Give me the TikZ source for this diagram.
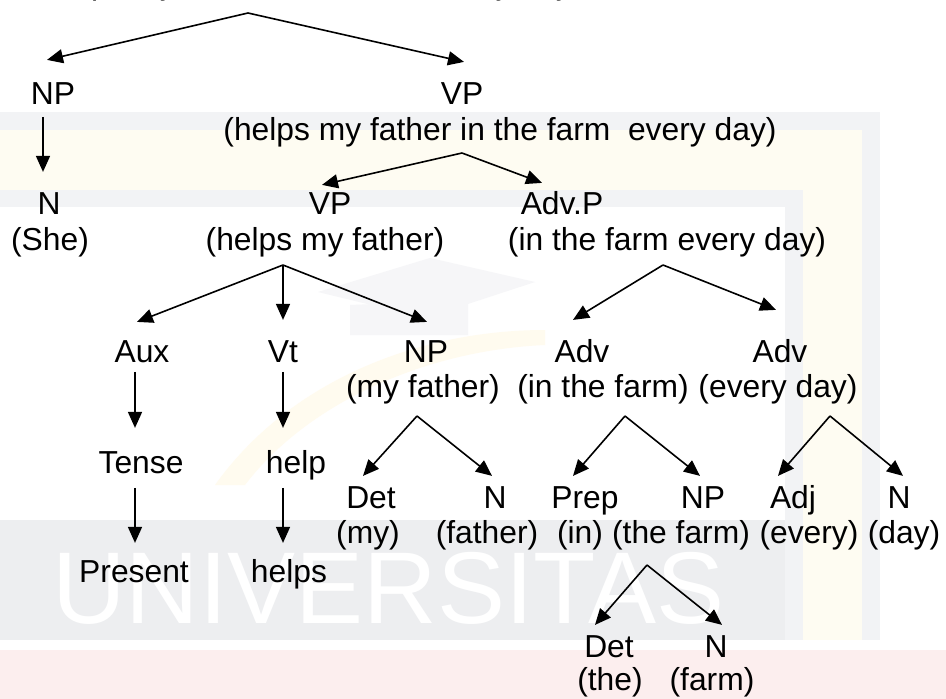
\documentclass[tikz,border=0pt]{standalone}
\usepackage{fontspec}
\setmainfont{Liberation Sans}
\usetikzlibrary{arrows.meta,calc}
\definecolor{wmgray}{HTML}{F2F3F5}
\definecolor{wmcream}{HTML}{FEFCF2}
\definecolor{wmband}{HTML}{EDEEF0}
\definecolor{wmpink}{HTML}{FCEEEE}
\definecolor{wmgold}{HTML}{FFFBEF}
\definecolor{wmcap}{HTML}{F6F6F8}
\begin{document}
\begin{tikzpicture}[x=1pt,y=-1pt,
  lab/.style={font=\fontsize{31.8}{38}\selectfont, inner sep=0pt, anchor=base,
              text height=22.9pt, text depth=6.7pt},
  arr/.style={line width=1.6pt, -{Triangle[length=16pt,width=14pt]}}]
\useasboundingbox (0,0) rectangle (946,699);
\clip (0,0) rectangle (946,699);

% ---- faint watermark in the background ----
\fill[white] (0,0) rectangle (946,699);
\fill[wmgray]  (0,112) rectangle (880,640);
\fill[wmcream] (0,130) rectangle (862,640);
\fill[wmgray]  (0,190) rectangle (803,640);
\fill[white]   (0,207) rectangle (785,520);
\fill[wmband]  (0,520) rectangle (785,640);
\fill[wmpink]  (0,650) rectangle (946,699);
\fill[wmgold] (215,485) .. controls (290,380) and (420,330) .. (545,330)
              -- (545,345) .. controls (430,350) and (310,400) .. (245,485) -- cycle;
\fill[wmcap] (318,292) -- (430,258) -- (535,282) -- (425,318) -- cycle;
\fill[wmcap] (350,305) -- (468,300) -- (468,335) -- (350,335) -- cycle;
\node[font=\fontsize{102}{110}\selectfont, text=white, inner sep=0pt, anchor=base west]
  (wm) at (52,623) {UNIVERSITAS};

% ---- sentence (above the top edge) ----
\node[lab, anchor=base west] (s) at (-17,-5.8) {She helps my father in the farm every day};

% ---- labels ----
\node[lab] (np1)  at (53,104)  {NP};
\node[lab] (vp1)  at (462,104) {VP};
\node[lab] (vp1g) at (500,140) {(helps my father in the farm\ \ every day)};

\node[lab] (n1)    at (49,214)  {N};
\node[lab] (n1g)   at (50,250)  {(She)};
\node[lab] (vp2)   at (330,214) {VP};
\node[lab] (vp2g)  at (325,250) {(helps my father)};
\node[lab] (advp)  at (562,214) {Adv.P};
\node[lab] (advpg) at (667,250) {(in the farm every day)};

\node[lab] (aux)   at (142,362) {Aux};
\node[lab] (vt)    at (283,362) {Vt};
\node[lab] (np3)   at (426,362) {NP};
\node[lab] (np3g)  at (423,397) {(my father)};
\node[lab] (adv1)  at (582,362) {Adv};
\node[lab] (adv1g) at (603,397) {(in the farm)};
\node[lab] (adv2)  at (780,362) {Adv};
\node[lab] (adv2g) at (778,397) {(every day)};

\node[lab] (tense) at (141,473) {Tense};
\node[lab] (help)  at (296,473) {help};
\node[lab] (pres)  at (134,582) {Present};
\node[lab] (helps) at (289,582) {helps};

\node[lab] (det1)  at (371,508) {Det};
\node[lab] (det1g) at (368,543) {(my)};
\node[lab] (n2)    at (495,508) {N};
\node[lab] (n2g)   at (487,543) {(father)};
\node[lab] (prep)  at (585,508) {Prep};
\node[lab] (prepg) at (580,543) {(in)};
\node[lab] (np4)   at (703,508) {NP};
\node[lab] (np4g)  at (681,543) {(the farm)};
\node[lab] (adj)   at (793,508) {Adj};
\node[lab] (adjg)  at (809,543) {(every)};
\node[lab] (n3)    at (899,508) {N};
\node[lab] (n3g)   at (904,543) {(day)};

\node[lab] (det2)  at (609,657) {Det};
\node[lab] (det2g) at (610,690) {(the)};
\node[lab] (n4)    at (716,657) {N};
\node[lab] (n4g)   at (712,690) {(farm)};

% ---- branching points ----
\coordinate (sfan)    at (248,13);
\coordinate (vp1fan)  at (462,153);
\coordinate (vp2fan)  at (283,265);
\coordinate (advpfan) at (663,265);
\coordinate (np3fan)  at (417,416);
\coordinate (adv1fan) at (625,416);
\coordinate (adv2fan) at (830,416);
\coordinate (np4fan)  at (647,565);

% ---- connectors ----
\draw[arr] (sfan) -- ($(np1.north)+(-6,-21)$);
\draw[arr] (sfan) -- ($(vp1.north)+(2,-19)$);
\draw[arr] ($(np1.south)+(-10,6)$) -- ($(n1.north)+(-6,-19)$);

\draw[arr] (vp1fan) -- ($(vp2.north)+(-8,-6)$);
\draw[arr] (vp1fan) -- ($(advp.north)+(-20,-8)$);

\draw[arr] (vp2fan) -- ($(aux.north)+(-5,-17)$);
\draw[arr] (vp2fan) -- ($(vt.north)+(0,-19)$);
\draw[arr] (vp2fan) -- ($(np3.north)+(1,-17)$);

\draw[arr] (advpfan) -- ($(adv1.north)+(-9,-19)$);
\draw[arr] (advpfan) -- ($(adv2.north)+(-4,-29)$);

\draw[arr] ($(aux.south)+(-7,3)$) -- ($(tense.north)+(-6,-22)$);
\draw[arr] ($(vt.south)+(0,3)$) -- ($(help.north)+(-13,-22)$);
\draw[arr] ($(tense.south)+(-6,8)$) -- ($(pres.north)+(1,-16)$);
\draw[arr] ($(help.south)+(-13,8)$) -- ($(helps.north)+(-6,-16)$);

\draw[arr] (np3fan) -- ($(det1.north)+(-8,-9)$);
\draw[arr] (np3fan) -- ($(n2.north)+(-3,-9)$);
\draw[arr] (adv1fan) -- ($(prep.north)+(-12,-9)$);
\draw[arr] (adv1fan) -- ($(np4.north)+(-3,-9)$);
\draw[arr] (adv2fan) -- ($(adj.north)+(-15,-9)$);
\draw[arr] (adv2fan) -- ($(n3.north)+(4,-9)$);

\draw[arr] (np4fan) -- ($(det2.north)+(-14,-9)$);
\draw[arr] (np4fan) -- ($(n4.north)+(6,-9)$);
\end{tikzpicture}
\end{document}
